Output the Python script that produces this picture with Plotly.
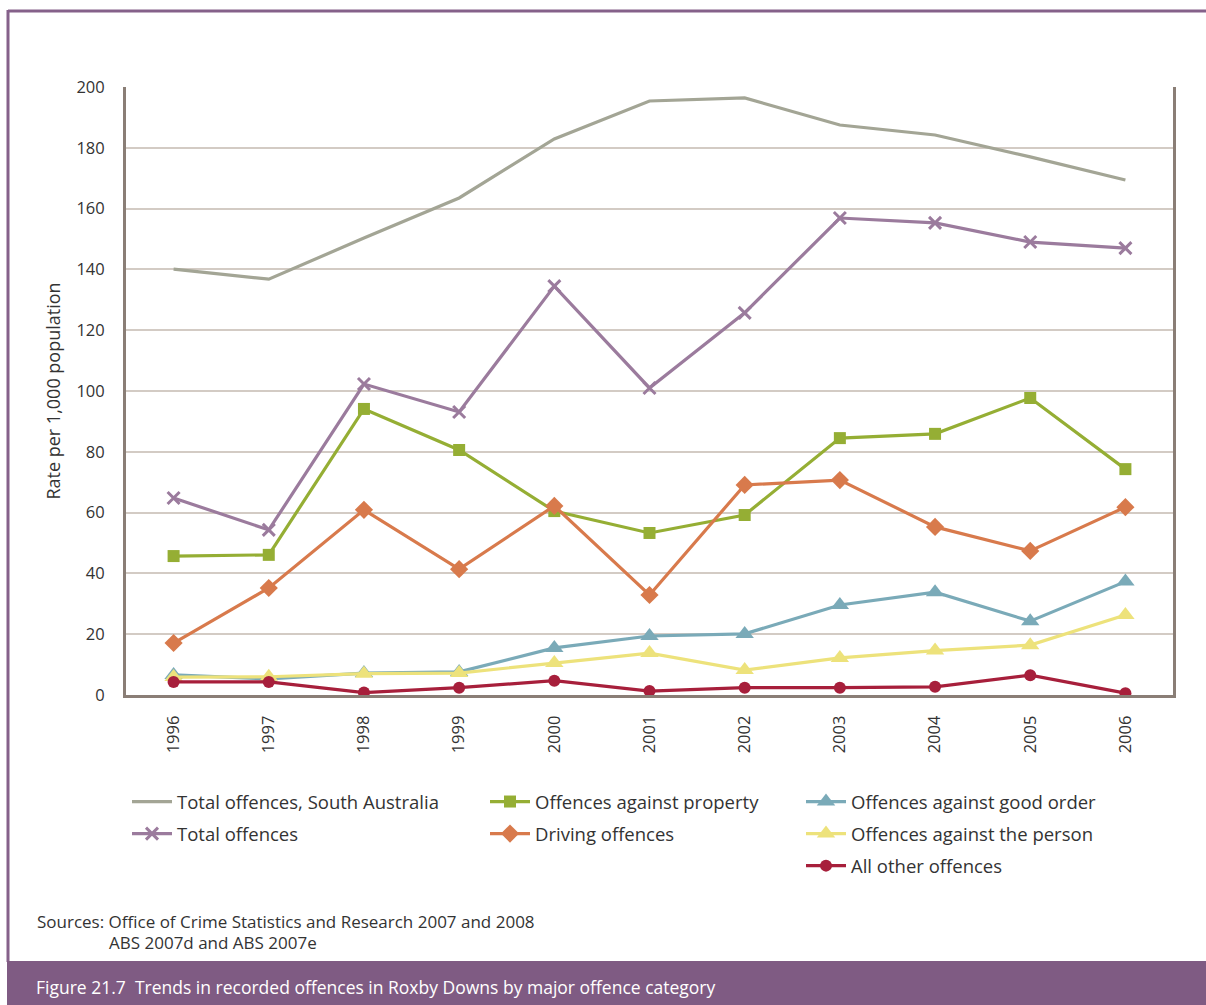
import plotly.graph_objects as go

# Recorded offences in Roxby Downs, rate per 1,000 population
years = ["1996", "1997", "1998", "1999", "2000", "2001", "2002", "2003", "2004", "2005", "2006"]

total_sa = [140.1, 136.8, 150.3, 163.5, 182.9, 195.4, 196.4, 187.5, 184.2, 177.0, 169.4]
total_offences = [64.8, 54.3, 102.3, 93.1, 134.5, 101.0, 125.7, 156.9, 155.3, 149.0, 147.0]
property_offences = [45.7, 46.1, 94.1, 80.6, 60.5, 53.3, 59.2, 84.5, 85.9, 97.7, 74.3]
driving_offences = [17.1, 35.2, 60.9, 41.4, 62.2, 32.9, 69.1, 70.7, 55.3, 47.4, 61.8]
good_order = [6.6, 5.3, 7.2, 7.6, 15.5, 19.4, 20.1, 29.6, 33.8, 24.3, 37.3]
against_person = [5.9, 6.0, 7.0, 7.2, 10.5, 13.8, 8.2, 12.2, 14.6, 16.4, 26.3]
all_other = [4.3, 4.3, 0.8, 2.4, 4.7, 1.3, 2.4, 2.4, 2.7, 6.5, 0.6]

y_ticks = [0, 20, 40, 60, 80, 100, 120, 140, 160, 180, 200]

FONT = "Open Sans, Noto Sans, sans-serif"
TEXT = "#333333"
PURPLE = "#85618a"

series = [
    # name, values, colour, marker symbol, marker size, legend id
    ("Total offences, South Australia", total_sa, "#a3a595", None, 0, "legend"),
    ("Total offences", total_offences, "#9b7b9d", "x-thin", 12, "legend"),
    ("Offences against property", property_offences, "#95ae34", "square", 12, "legend2"),
    ("Driving offences", driving_offences, "#d87a4c", "diamond", 14, "legend2"),
    ("Offences against good order", good_order, "#7aaab8", "triangle-up", 16, "legend3"),
    ("Offences against the person", against_person, "#ede27b", "triangle-up", 16, "legend3"),
    ("All other offences", all_other, "#a71f3b", "circle", 12, "legend3"),
]

fig = go.Figure()
for i, (name, vals, col, sym, size, leg) in enumerate(series):
    if sym is None:
        mode = "lines"
        marker = None
    else:
        mode = "lines+markers"
        marker = dict(symbol=sym, size=size, color=col,
                      line=dict(color=col, width=3 if sym == "x-thin" else 0))
    fig.add_trace(go.Scatter(
        x=years, y=vals, name=name, mode=mode,
        line=dict(color=col, width=3.2),
        marker=marker, legend=leg, legendgroup=f"g{i}",
    ))

# Plot frame geometry in pixels, used to place decorations in paper units
W, H = 1206, 1005
L, R, T, B = 126, 1173, 87, 695


def px(x):
    return (x - L) / (R - L)


def py(y):
    return (B - y) / (B - T)


legend_common = dict(
    orientation="v", bgcolor="rgba(0,0,0,0)", borderwidth=0,
    font=dict(family=FONT, size=18.5, color=TEXT),
    traceorder="grouped", tracegroupgap=5,
    xanchor="left", yanchor="top", itemwidth=40,
)

fig.update_layout(
    width=W, height=H,
    margin=dict(l=L, r=W - R, t=T, b=H - B),
    paper_bgcolor="white", plot_bgcolor="white",
    font=dict(family=FONT, size=16, color=TEXT),
    showlegend=True,
    legend=dict(x=px(127), y=py(783), **legend_common),
    legend2=dict(x=px(485), y=py(783), **legend_common),
    legend3=dict(x=px(801), y=py(783), **legend_common),
    xaxis=dict(
        type="category", range=[-0.5, 10.5],
        showgrid=False, showline=True, linecolor="#8a7e76", linewidth=3,
        ticks="", tickangle=-90, ticklabelstandoff=11,
        tickfont=dict(family=FONT, size=16.5, color=TEXT),
    ),
    yaxis=dict(
        range=[0, 200], tickvals=y_ticks, showgrid=True,
        gridcolor="#d3cbc4", gridwidth=2,
        showline=True, linecolor="#8a7e76", linewidth=3, mirror=True,
        ticks="", ticklabelstandoff=15, zeroline=False,
        tickfont=dict(family=FONT, size=16.5, color=TEXT),
        title=dict(text="Rate per 1,000 population", standoff=12,
                   font=dict(family=FONT, size=18, color=TEXT)),
    ),
    shapes=[
        # outer frame: top and left rules
        dict(type="line", xref="paper", yref="paper",
             x0=px(8), x1=px(1210), y0=py(11), y1=py(11),
             line=dict(color=PURPLE, width=3)),
        dict(type="line", xref="paper", yref="paper",
             x0=px(8), x1=px(8), y0=py(10), y1=py(962),
             line=dict(color=PURPLE, width=3)),
        # caption band
        dict(type="rect", xref="paper", yref="paper",
             x0=px(7), x1=px(1210), y0=py(961), y1=py(1010),
             fillcolor="#7f5b83", line=dict(width=0)),
    ],
    annotations=[
        dict(text="Sources: Office of Crime Statistics and Research 2007 and 2008",
             xref="paper", yref="paper", x=px(35), y=py(921),
             xanchor="left", yanchor="middle", showarrow=False,
             font=dict(family=FONT, size=17, color=TEXT)),
        dict(text="ABS 2007d and ABS 2007e",
             xref="paper", yref="paper", x=px(107), y=py(942),
             xanchor="left", yanchor="middle", showarrow=False,
             font=dict(family=FONT, size=17, color=TEXT)),
        dict(text="Figure 21.7  Trends in recorded offences in Roxby Downs by major offence category",
             xref="paper", yref="paper", x=px(34), y=py(987),
             xanchor="left", yanchor="middle", showarrow=False,
             font=dict(family=FONT, size=17.5, color="white")),
    ],
)

fig.write_html("out.html")
